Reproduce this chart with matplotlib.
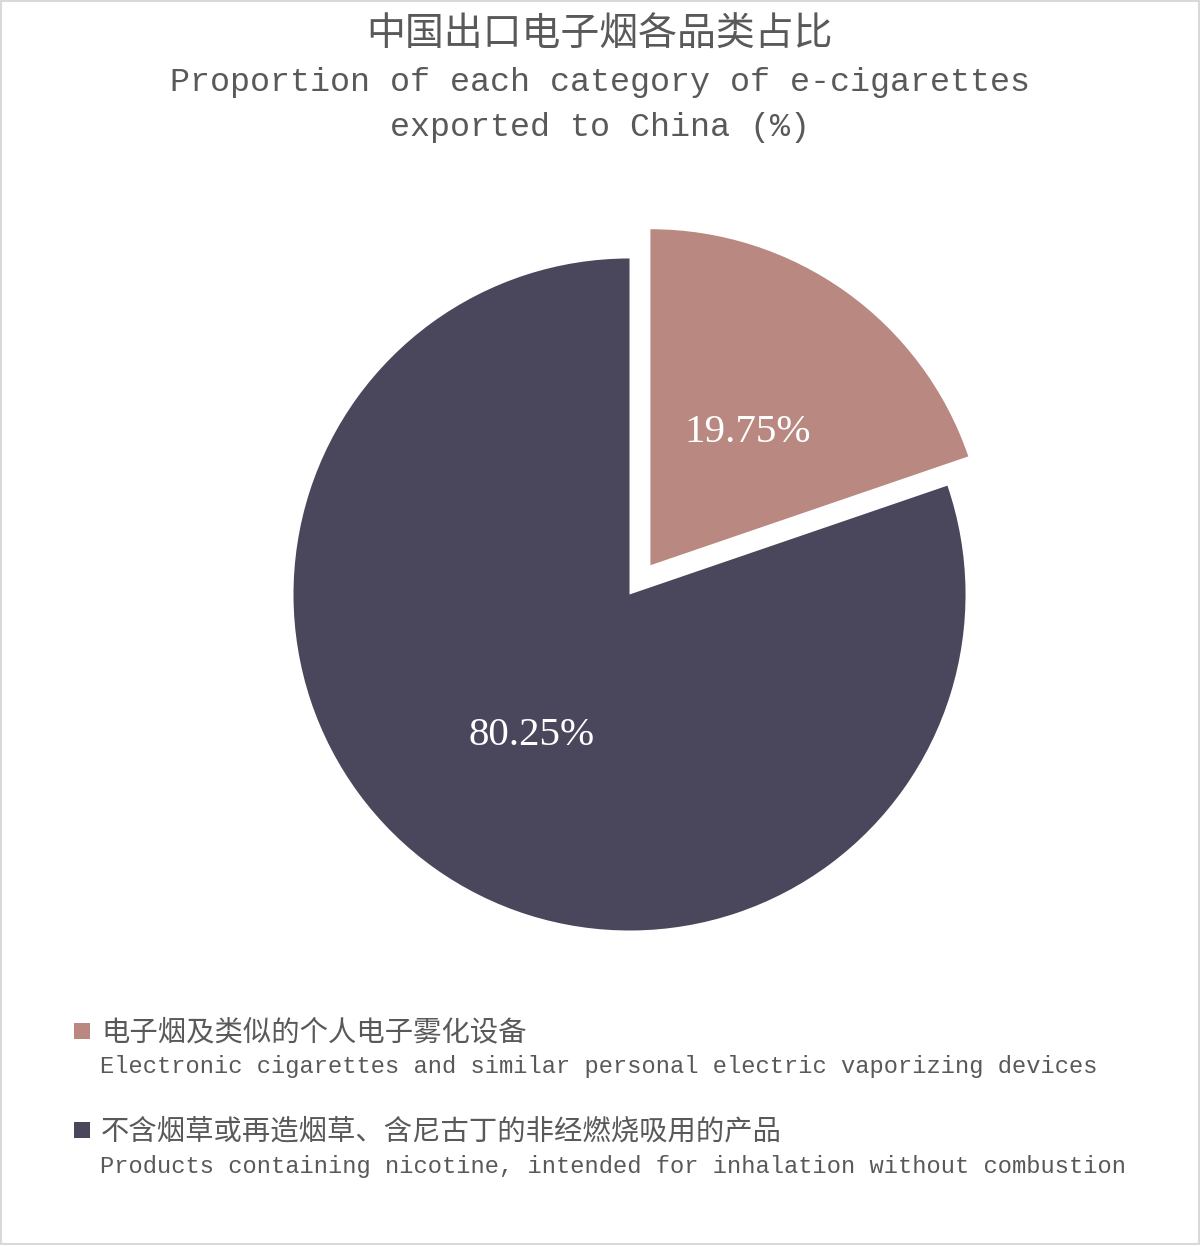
import matplotlib.pyplot as plt
import matplotlib
from matplotlib.patches import Rectangle

# data
labels_cn = ['电子烟及类似的个人电子雾化设备', '不含烟草或再造烟草、含尼古丁的非经燃烧吸用的产品']
labels_en = ['Electronic cigarettes and similar personal electric vaporizing devices',
             'Products containing nicotine, intended for inhalation without combustion']
shares = [19.75, 80.25]
colors = ['#B98880', '#4A475C']

title_cn = '中国出口电子烟各品类占比'
title_en = 'Proportion of each category of e-cigarettes\nexported to China (%)'

cjk = ['Noto Sans CJK SC', 'DejaVu Sans']
mono = ['Liberation Mono', 'Noto Sans CJK SC']
txt_color = '#595959'

fig = plt.figure(figsize=(12, 12.45), dpi=100)

# pie axes: 800 px square, centre at (629.5, 594.5) px from top-left
ax = fig.add_axes([0.19125, 0.2012, 0.6667, 0.6426])
wedges, texts, autotexts = ax.pie(shares, colors=colors, startangle=90, counterclock=False,
                                  explode=[0.107, 0], autopct='%.2f%%', pctdistance=0.5,
                                  wedgeprops=dict(linewidth=0),
                                  textprops=dict(color='white', fontsize=29.5, family='Liberation Serif'))
for t in autotexts:
    x, y = t.get_position()
    t.set_position((x, y - 0.012))
s = 400 / 336
ax.set_xlim(-s, s)
ax.set_ylim(-s, s)
ax.set_aspect('equal')

# titles
fig.text(0.5, 1 - 35 / 1245, title_cn, ha='center', va='center', fontsize=28,
         family=cjk, color=txt_color)
fig.text(0.5, 1 - 105 / 1245, title_en, ha='center', va='center', fontsize=24,
         family=mono, color=txt_color, linespacing=1.62)

# legend
rows = [1031, 1130]
for i in range(2):
    y = rows[i]
    fig.patches.append(Rectangle((74 / 1200, 1 - (y + 8) / 1245), 16 / 1200, 16 / 1245,
                                 transform=fig.transFigure, facecolor=colors[i], edgecolor='none'))
    fig.text(101 / 1200, 1 - (y + 1) / 1245, labels_cn[i], ha='left', va='center', fontsize=20.4,
             family=cjk, color=txt_color)
    fig.text(100 / 1200, 1 - (y + 36) / 1245, labels_en[i], ha='left', va='center', fontsize=17.15,
             family=mono, color=txt_color)

# light frame around the figure
fig.patches.append(Rectangle((0.001, 0.001), 0.998, 0.998, transform=fig.transFigure,
                             facecolor='none', edgecolor='#d9d9d9', linewidth=1.5))

plt.savefig('out.png', dpi=100, facecolor='white')
